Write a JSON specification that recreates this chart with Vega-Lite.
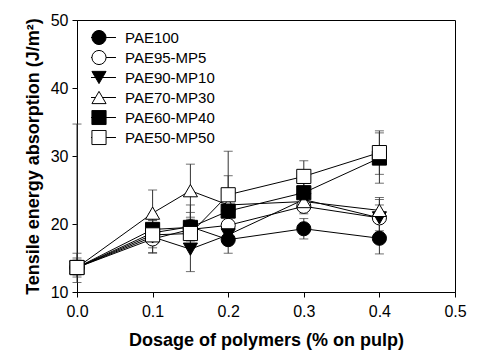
{
  "$schema": "https://vega.github.io/schema/vega-lite/v6.json",
  "autosize": {"type": "none"},
  "padding": {"left": 77, "top": 20, "right": 23, "bottom": 69},
  "width": 378,
  "height": 272,
  "background": "white",
  "config": {
    "font": "Liberation Sans",
    "view": {"stroke": "black", "strokeWidth": 1},
    "axis": {
      "domainColor": "black", "tickColor": "black", "grid": false,
      "labelFont": "Liberation Sans", "labelFontSize": 16, "labelColor": "black",
      "titleFont": "Liberation Sans", "titleFontSize": 18, "titleFontWeight": "bold", "titleColor": "black",
      "tickSize": 5, "labelFlush": false
    },
    "legend": {"labelFont": "Liberation Sans", "labelFontSize": 15, "labelColor": "black", "padding": 0}
  },
  "data": {
    "values": [
      {"series": "PAE100", "x": 0, "y": 13.6, "lo": 11.4, "hi": 15.7},
      {"series": "PAE100", "x": 0.1, "y": 18.7, "lo": 15.8, "hi": 21.5},
      {"series": "PAE100", "x": 0.15, "y": 19.6, "lo": 17.5, "hi": 21.7},
      {"series": "PAE100", "x": 0.2, "y": 17.7, "lo": 15.7, "hi": 19.7},
      {"series": "PAE100", "x": 0.3, "y": 19.3, "lo": 17.8, "hi": 20.8},
      {"series": "PAE100", "x": 0.4, "y": 17.9, "lo": 15.6, "hi": 20.2},
      {"series": "PAE95-MP5", "x": 0, "y": 13.6, "lo": 12.2, "hi": 15.0},
      {"series": "PAE95-MP5", "x": 0.1, "y": 17.8, "lo": 16.5, "hi": 19.1},
      {"series": "PAE95-MP5", "x": 0.15, "y": 19.2, "lo": 18.0, "hi": 20.4},
      {"series": "PAE95-MP5", "x": 0.2, "y": 19.8, "lo": 19.2, "hi": 20.4},
      {"series": "PAE95-MP5", "x": 0.3, "y": 22.6, "lo": 21.5, "hi": 23.7},
      {"series": "PAE95-MP5", "x": 0.4, "y": 20.9, "lo": 18.2, "hi": 23.6},
      {"series": "PAE90-MP10", "x": 0, "y": 13.6, "lo": 12.5, "hi": 14.7},
      {"series": "PAE90-MP10", "x": 0.1, "y": 18.1, "lo": 15.7, "hi": 20.5},
      {"series": "PAE90-MP10", "x": 0.15, "y": 16.3, "lo": 13.0, "hi": 19.6},
      {"series": "PAE90-MP10", "x": 0.2, "y": 18.4, "lo": 17.0, "hi": 19.8},
      {"series": "PAE90-MP10", "x": 0.3, "y": 23.6, "lo": 22.5, "hi": 24.7},
      {"series": "PAE90-MP10", "x": 0.4, "y": 20.9, "lo": 19.0, "hi": 22.8},
      {"series": "PAE70-MP30", "x": 0, "y": 13.6, "lo": 12.8, "hi": 14.4},
      {"series": "PAE70-MP30", "x": 0.1, "y": 21.6, "lo": 18.2, "hi": 25.0},
      {"series": "PAE70-MP30", "x": 0.15, "y": 24.9, "lo": 21.0, "hi": 28.8},
      {"series": "PAE70-MP30", "x": 0.2, "y": 22.8, "lo": 21.5, "hi": 24.1},
      {"series": "PAE70-MP30", "x": 0.3, "y": 23.3, "lo": 22.0, "hi": 24.6},
      {"series": "PAE70-MP30", "x": 0.4, "y": 22.0, "lo": 20.1, "hi": 23.9},
      {"series": "PAE60-MP40", "x": 0, "y": 13.6, "lo": 13.6, "hi": 34.7},
      {"series": "PAE60-MP40", "x": 0.1, "y": 19.2, "lo": 17.8, "hi": 20.6},
      {"series": "PAE60-MP40", "x": 0.15, "y": 19.5, "lo": 18.0, "hi": 22.8},
      {"series": "PAE60-MP40", "x": 0.2, "y": 21.9, "lo": 20.5, "hi": 27.1},
      {"series": "PAE60-MP40", "x": 0.3, "y": 24.6, "lo": 22.5, "hi": 26.7},
      {"series": "PAE60-MP40", "x": 0.4, "y": 29.7, "lo": 26.0, "hi": 33.4},
      {"series": "PAE50-MP50", "x": 0, "y": 13.6, "lo": 13.0, "hi": 14.2},
      {"series": "PAE50-MP50", "x": 0.1, "y": 18.4, "lo": 17.0, "hi": 19.8},
      {"series": "PAE50-MP50", "x": 0.15, "y": 18.6, "lo": 16.5, "hi": 20.7},
      {"series": "PAE50-MP50", "x": 0.2, "y": 24.3, "lo": 17.9, "hi": 30.7},
      {"series": "PAE50-MP50", "x": 0.3, "y": 27.0, "lo": 24.7, "hi": 29.3},
      {"series": "PAE50-MP50", "x": 0.4, "y": 30.5, "lo": 27.3, "hi": 33.7}
    ]
  },
  "encoding": {
    "x": {"field": "x", "type": "quantitative",
      "scale": {"domain": [0, 0.5], "nice": false, "zero": false},
      "axis": {"values": [0, 0.1, 0.2, 0.3, 0.4, 0.5], "format": ".1f", "title": "Dosage of polymers (% on pulp)", "labelPadding": 6, "titlePadding": 12}},
    "y": {"field": "y", "type": "quantitative",
      "scale": {"domain": [10, 50], "nice": false, "zero": false},
      "axis": {"values": [10, 20, 30, 40, 50], "title": "Tensile energy absorption (J/m²)", "labelPadding": 4, "titlePadding": 8}}
  },
  "layer": [
    {"mark": {"type": "rule", "color": "#333", "strokeWidth": 1},
     "encoding": {"y": {"field": "lo", "type": "quantitative"}, "y2": {"field": "hi"}}},
    {"mark": {"type": "tick", "orient": "horizontal", "color": "#333", "size": 9, "thickness": 1},
     "encoding": {"y": {"field": "lo", "type": "quantitative"}}},
    {"mark": {"type": "tick", "orient": "horizontal", "color": "#333", "size": 9, "thickness": 1},
     "encoding": {"y": {"field": "hi", "type": "quantitative"}}},
    {"mark": {"type": "line", "strokeWidth": 1},
     "encoding": {
       "color": {"field": "series", "type": "nominal",
         "sort": ["PAE100", "PAE95-MP5", "PAE90-MP10", "PAE70-MP30", "PAE60-MP40", "PAE50-MP50"],
         "scale": {"range": ["black", "black", "black", "black", "black", "black"]},
         "legend": {"title": null, "orient": "none", "legendX": 14, "legendY": 10, "symbolType": "M-2.4,0H2.4", "symbolSize": 200, "symbolStrokeWidth": 1, "labelOffset": 18, "rowPadding": 4, "clipHeight": 15, "zindex": 1}}
     }},
    {"mark": {"type": "point", "filled": true, "stroke": "black", "strokeWidth": 1, "size": 200, "opacity": 1},
     "encoding": {
       "shape": {"field": "series", "type": "nominal",
         "scale": {"domain": ["PAE100", "PAE95-MP5", "PAE90-MP10", "PAE70-MP30", "PAE60-MP40", "PAE50-MP50"], "range": ["circle", "circle", "triangle-down", "triangle-up", "square", "square"]},
         "legend": {"title": null, "orient": "none", "legendX": 14, "legendY": 10, "symbolSize": 200, "symbolStrokeWidth": 1, "labelOffset": 18, "rowPadding": 4, "clipHeight": 15, "labelOpacity": 0, "zindex": 2,
           "encode": {"symbols": {"stroke": {"value": "black"}, "strokeWidth": {"value": 1}}}}},
       "fill": {"field": "series", "type": "nominal",
         "scale": {"domain": ["PAE100", "PAE95-MP5", "PAE90-MP10", "PAE70-MP30", "PAE60-MP40", "PAE50-MP50"], "range": ["black", "white", "black", "white", "black", "white"]},
         "legend": {"title": null, "orient": "none", "legendX": 14, "legendY": 10, "symbolSize": 200, "symbolStrokeWidth": 1, "labelOffset": 18, "rowPadding": 4, "clipHeight": 15, "labelOpacity": 0, "zindex": 2,
           "encode": {"symbols": {"stroke": {"value": "black"}, "strokeWidth": {"value": 1}}}}}
     }}
  ]
}
